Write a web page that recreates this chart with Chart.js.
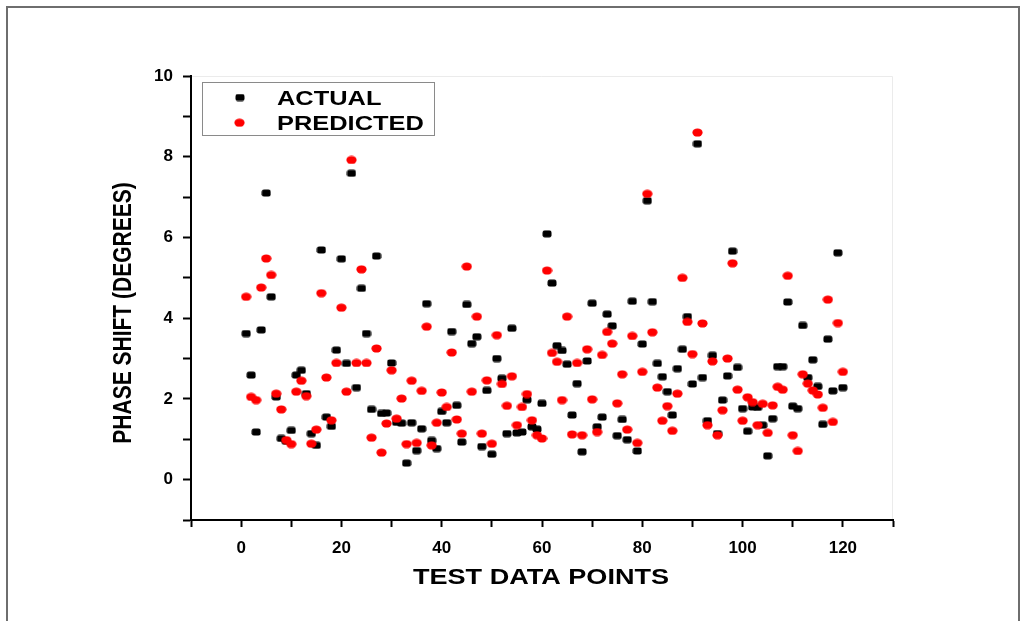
<!DOCTYPE html>
<html>
<head>
<meta charset="utf-8">
<script src="https://cdn.jsdelivr.net/npm/chart.js@4.4.1/dist/chart.umd.min.js"></script>
<style>
html,body{margin:0;padding:0;background:#fff;overflow:hidden}
#wrap{width:1026px;height:621px;position:relative}
canvas{display:block}
</style>
</head>
<body>
<div id="wrap"><canvas id="c" width="1026" height="621"></canvas></div>
<script>
// ---- data ----
const testPoints = [1,2,3,4,5,6,7,8,9,10,11,12,13,14,15,16,17,18,19,20,
21,22,23,24,25,26,27,28,29,30,31,32,33,34,35,36,37,38,39,40,
41,42,43,44,45,46,47,48,49,50,51,52,53,54,55,56,57,58,59,60,
61,62,63,64,65,66,67,68,69,70,71,72,73,74,75,76,77,78,79,80,
81,82,83,84,85,86,87,88,89,90,91,92,93,94,95,96,97,98,99,100,
101,102,103,104,105,106,107,108,109,110,111,112,113,114,115,116,117,118,119,120];

const actual = [3.62,2.59,1.18,3.71,7.10,4.53,2.05,1.02,0.95,1.22,
2.59,2.71,2.13,1.14,0.85,5.69,1.55,1.32,3.21,5.47,
2.88,7.59,2.28,4.74,3.62,1.74,5.54,1.64,1.65,2.89,
1.42,1.40,0.41,1.41,0.72,1.26,4.36,0.97,0.77,1.69,
1.41,3.67,1.84,0.93,4.34,3.37,3.54,0.82,2.21,0.63,
3.00,2.51,1.14,3.75,1.16,1.18,1.98,1.31,1.25,1.89,
6.09,4.87,3.32,3.20,2.86,1.60,2.38,0.69,2.94,4.37,
1.31,1.55,4.10,3.81,1.09,1.49,0.99,4.42,0.71,3.36,
6.91,4.41,2.88,2.55,2.18,1.60,2.75,3.23,4.04,2.37,
8.32,2.53,1.46,3.08,1.14,1.97,2.57,5.66,2.78,1.76,
1.20,1.80,1.79,1.35,0.59,1.51,2.80,2.80,4.40,1.82,
1.76,3.82,2.53,2.97,2.31,1.37,3.48,2.20,5.62,2.28];

const predicted = [4.53,2.05,1.97,4.76,5.48,5.07,2.13,1.74,0.98,0.88,
2.18,2.45,2.07,0.89,1.24,4.62,2.53,1.47,2.89,4.26,
2.18,7.92,2.89,5.21,2.89,1.04,3.25,0.67,1.39,2.71,
1.51,2.01,0.88,2.45,0.91,2.20,3.79,0.85,1.41,2.16,
1.80,3.15,1.49,1.14,5.28,2.18,4.04,1.14,2.46,0.89,
3.58,2.37,1.83,2.56,1.35,1.80,2.12,1.47,1.10,1.02,
5.18,3.14,2.92,1.97,4.04,1.12,2.89,1.10,3.23,1.99,
1.18,3.09,3.66,3.37,1.89,2.61,1.24,3.56,0.91,2.67,
7.08,3.65,2.28,1.46,1.82,1.21,2.13,5.00,3.91,3.11,
8.60,3.87,1.35,2.93,1.10,1.72,3.00,5.36,2.23,1.46,
2.04,1.92,1.35,1.88,1.16,1.84,2.30,2.23,5.05,1.10,
0.71,2.61,2.38,2.21,2.11,1.78,4.46,1.43,3.88,2.67];

const xTickLabels = [0,20,40,60,80,100,120];
const yTickLabels = [0,2,4,6,8,10];
const seriesNames = ['ACTUAL','PREDICTED'];
const xTitle = 'TEST DATA POINTS';
const yTitle = 'PHASE SHIFT (DEGREES)';

// ---- marker sprites ----
function makeSquare(){
  const c=document.createElement('canvas'); c.width=10; c.height=8;
  const g=c.getContext('2d'); g.fillStyle='#000';
  g.beginPath(); g.roundRect(0.5,0.5,9,7,2.2); g.fill(); return c;
}
function makeDot(){
  const c=document.createElement('canvas'); c.width=11; c.height=9;
  const g=c.getContext('2d'); g.fillStyle='#ff0000';
  g.beginPath(); g.ellipse(5.5,4.5,5.1,4.1,0,0,Math.PI*2); g.fill(); return c;
}
const sq = makeSquare(), dot = makeDot();

const toPts = (ys)=> testPoints.map((x,i)=>({x:x,y:ys[i]}));

const tickFont = {family:'"Liberation Sans", Arial, sans-serif', size:17, weight:'bold'};

function scaledText(ctx, text, x, y, sx){
  ctx.save(); ctx.translate(x,y); ctx.scale(sx,1); ctx.fillText(text,0,0); ctx.restore();
}

const decor = {
  id:'decor',
  beforeDraw(chart){
    const ctx=chart.ctx, a=chart.chartArea;
    ctx.save();
    ctx.fillStyle='#fff'; ctx.fillRect(0,0,chart.width,chart.height);
    ctx.strokeStyle='#6e6e6e'; ctx.lineWidth=2;
    ctx.beginPath(); ctx.moveTo(7,650); ctx.lineTo(7,7); ctx.lineTo(1019,7); ctx.lineTo(1019,650); ctx.stroke();
    ctx.strokeStyle='#ebebeb'; ctx.lineWidth=1;
    ctx.beginPath(); ctx.moveTo(a.left,a.top+0.5); ctx.lineTo(a.right-0.5,a.top+0.5); ctx.lineTo(a.right-0.5,a.bottom); ctx.stroke();
    ctx.restore();
  },
  afterDraw(chart){
    const ctx=chart.ctx;
    ctx.save();
    ctx.fillStyle='#000';
    // x title
    ctx.font='bold 22px "Liberation Sans", Arial, sans-serif';
    ctx.textAlign='center'; ctx.textBaseline='alphabetic';
    scaledText(ctx, xTitle, 541, 584, 1.23);
    // y title
    ctx.save();
    ctx.translate(131,313); ctx.rotate(-Math.PI/2); ctx.scale(1,1.25);
    ctx.font='bold 21px "Liberation Sans", Arial, sans-serif';
    ctx.textAlign='center'; ctx.textBaseline='alphabetic';
    ctx.fillText(yTitle,0,0);
    ctx.restore();
    // legend
    ctx.fillStyle='#fff'; ctx.fillRect(202,82,233,54);
    ctx.strokeStyle='#8a8a8a'; ctx.lineWidth=1; ctx.strokeRect(202.5,82.5,232,53);
    ctx.drawImage(sq, 240-5, 97.5-4);
    ctx.drawImage(dot, 239.5-5.5, 122.7-4.5);
    ctx.fillStyle='#000';
    ctx.font='bold 20px "Liberation Sans", Arial, sans-serif';
    ctx.textAlign='left'; ctx.textBaseline='alphabetic';
    scaledText(ctx, seriesNames[0], 277, 105, 1.27);
    scaledText(ctx, seriesNames[1], 277, 130, 1.27);
    ctx.restore();
  }
};

new Chart(document.getElementById('c'), {
  type:'scatter',
  data:{datasets:[
    {label:seriesNames[0], data:toPts(actual), pointStyle:sq, pointRadius:5, order:1, backgroundColor:'#000', borderColor:'#000'},
    {label:seriesNames[1], data:toPts(predicted), pointStyle:dot, pointRadius:5, order:0, backgroundColor:'#f00', borderColor:'#f00'}
  ]},
  options:{
    responsive:false, animation:false, devicePixelRatio:1,
    layout:{padding:{top:76,right:133,left:0,bottom:0}},
    plugins:{legend:{display:false}, tooltip:{enabled:false}, title:{display:false}},
    scales:{
      x:{type:'linear', position:'bottom', min:-10, max:130,
        ticks:{stepSize:10, autoSkip:false, maxRotation:0, minRotation:0, padding:11, color:'#000', font:tickFont,
          callback:(v)=> xTickLabels.includes(v) ? String(v) : ''},
        grid:{display:true, drawOnChartArea:false, drawTicks:true, tickLength:7, tickWidth:2, tickColor:'#000'},
        border:{display:true, color:'#000', width:2},
        afterFit(s){ s.height = 101; }
      },
      y:{type:'linear', position:'left', min:-1, max:10,
        ticks:{stepSize:1, autoSkip:false, padding:10, color:'#000', font:tickFont,
          callback:(v)=> yTickLabels.includes(v) ? String(v) : ''},
        grid:{display:true, drawOnChartArea:false, drawTicks:true, tickLength:8, tickWidth:2, tickColor:'#000'},
        border:{display:true, color:'#000', width:2},
        afterFit(s){ s.width = 191; }
      }
    }
  },
  plugins:[decor]
});
</script>
</body>
</html>
